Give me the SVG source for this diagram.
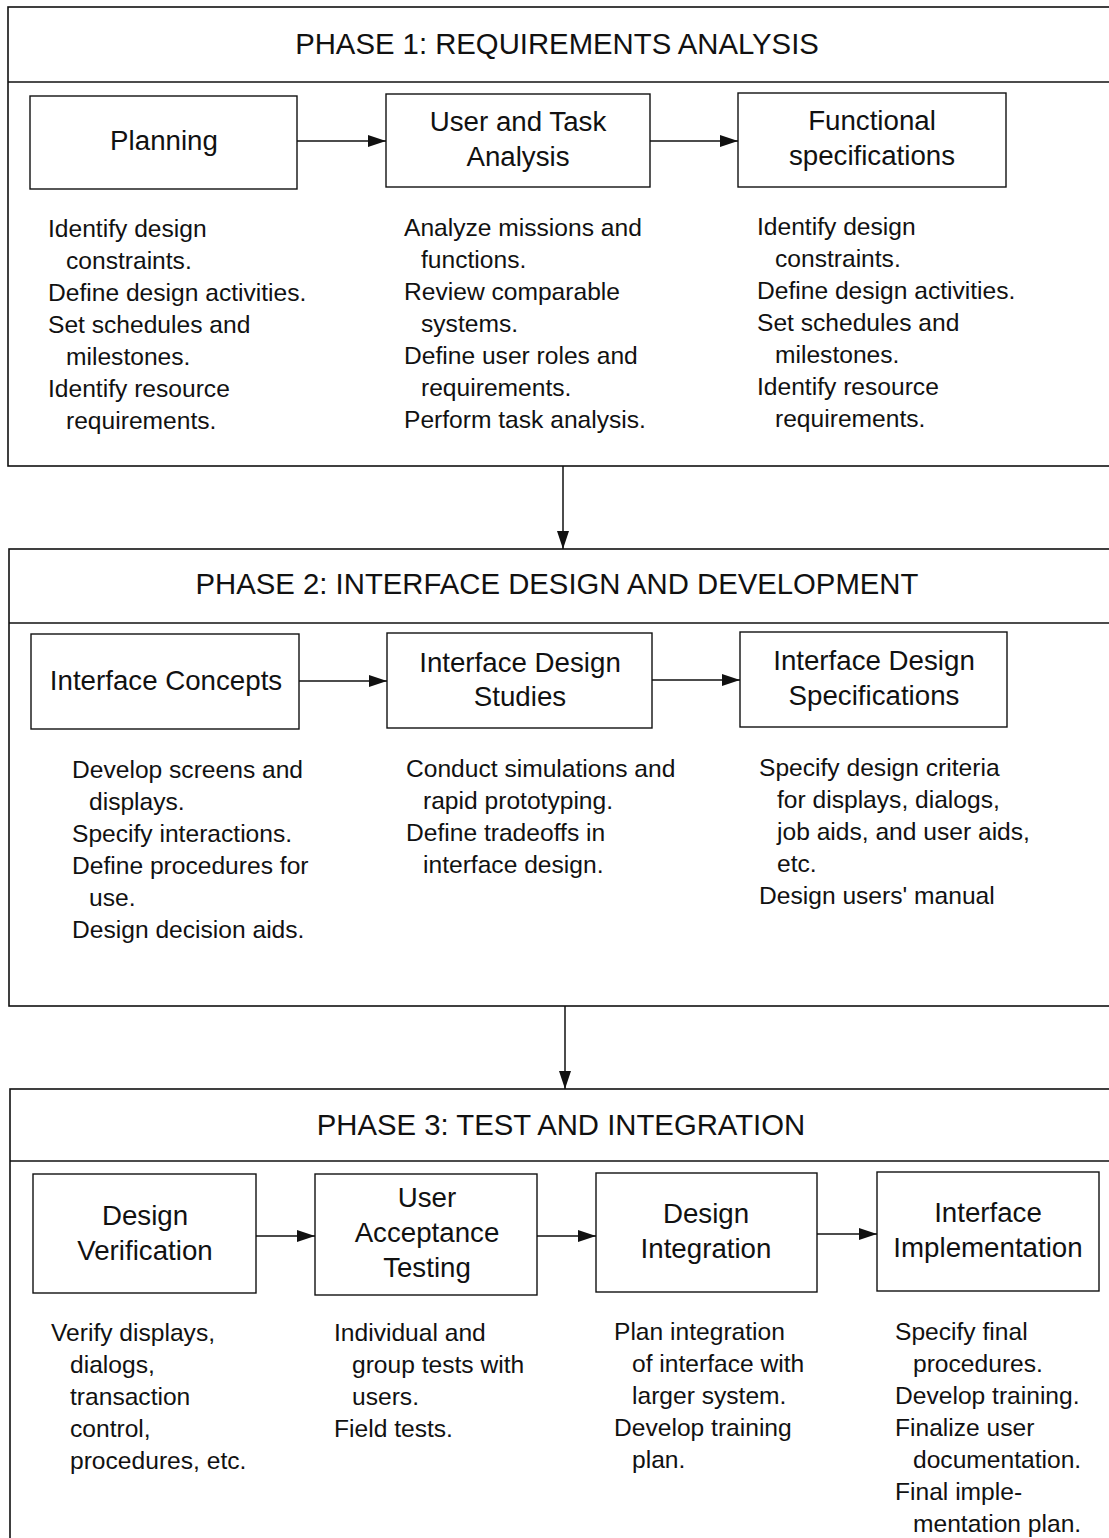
<svg xmlns="http://www.w3.org/2000/svg" width="1109" height="1538" viewBox="0 0 1109 1538">
<style>
.phase{fill:none;stroke:#111;stroke-width:1.6}
.box{fill:#fff;stroke:#111;stroke-width:1.4}
.hdr{font-family:"Liberation Sans",Arial,sans-serif;font-size:29.3px;fill:#111;text-anchor:middle}
.ttl{font-family:"Liberation Sans",Arial,sans-serif;font-size:27.7px;fill:#111;text-anchor:middle}
.body{font-family:"Liberation Sans",Arial,sans-serif;font-size:24.6px;fill:#111}
.conn{stroke:#111;stroke-width:1.5;fill:none}
</style>
<defs>
<marker id="ah" viewBox="0 0 18 12" refX="18" refY="6" markerWidth="18" markerHeight="12" markerUnits="userSpaceOnUse" orient="auto">
<path d="M0,0 L18,6 L0,12 Z" fill="#111"/>
</marker>
</defs>
<rect width="1109" height="1538" fill="#fff"/>

<g id="phase1">
<rect class="phase" x="8" y="7" width="1110" height="459"/>
<line class="phase" x1="8" y1="82" x2="1118" y2="82"/>
<text class="hdr" x="557" y="54">PHASE 1: REQUIREMENTS ANALYSIS</text>
</g>
<g id="phase2">
<rect class="phase" x="9" y="549" width="1110" height="457"/>
<line class="phase" x1="9" y1="623" x2="1119" y2="623"/>
<text class="hdr" x="557" y="594">PHASE 2: INTERFACE DESIGN AND DEVELOPMENT</text>
</g>
<g id="phase3">
<rect class="phase" x="10" y="1089" width="1110" height="460"/>
<line class="phase" x1="10" y1="1161" x2="1120" y2="1161"/>
<text class="hdr" x="561" y="1135">PHASE 3: TEST AND INTEGRATION</text>
</g>

<g id="planning">
<rect class="box" x="30" y="96" width="267" height="93"/>
<text class="ttl" x="164" y="150">Planning</text>
<text class="body"><tspan x="48" y="237">Identify design</tspan><tspan x="66" y="269">constraints.</tspan><tspan x="48" y="301">Define design activities.</tspan><tspan x="48" y="333">Set schedules and</tspan><tspan x="66" y="365">milestones.</tspan><tspan x="48" y="397">Identify resource</tspan><tspan x="66" y="429">requirements.</tspan></text>
</g>
<g id="user-task-analysis">
<rect class="box" x="386" y="94" width="264" height="93"/>
<text class="ttl" x="518" y="131">User and Task</text>
<text class="ttl" x="518" y="166">Analysis</text>
<text class="body"><tspan x="404" y="236">Analyze missions and</tspan><tspan x="421" y="268">functions.</tspan><tspan x="404" y="300">Review comparable</tspan><tspan x="421" y="332">systems.</tspan><tspan x="404" y="364">Define user roles and</tspan><tspan x="421" y="396">requirements.</tspan><tspan x="404" y="428">Perform task analysis.</tspan></text>
</g>
<g id="functional-specifications">
<rect class="box" x="738" y="93" width="268" height="94"/>
<text class="ttl" x="872" y="130">Functional</text>
<text class="ttl" x="872" y="165">specifications</text>
<text class="body"><tspan x="757" y="235">Identify design</tspan><tspan x="775" y="267">constraints.</tspan><tspan x="757" y="299">Define design activities.</tspan><tspan x="757" y="331">Set schedules and</tspan><tspan x="775" y="363">milestones.</tspan><tspan x="757" y="395">Identify resource</tspan><tspan x="775" y="427">requirements.</tspan></text>
</g>

<g id="interface-concepts">
<rect class="box" x="31" y="634" width="268" height="95"/>
<text class="ttl" x="166" y="690">Interface Concepts</text>
<text class="body"><tspan x="72" y="778">Develop screens and</tspan><tspan x="89" y="810">displays.</tspan><tspan x="72" y="842">Specify interactions.</tspan><tspan x="72" y="874">Define procedures for</tspan><tspan x="89" y="906">use.</tspan><tspan x="72" y="938">Design decision aids.</tspan></text>
</g>
<g id="interface-design-studies">
<rect class="box" x="387" y="633" width="265" height="95"/>
<text class="ttl" x="520" y="672">Interface Design</text>
<text class="ttl" x="520" y="706">Studies</text>
<text class="body"><tspan x="406" y="777">Conduct simulations and</tspan><tspan x="423" y="809">rapid prototyping.</tspan><tspan x="406" y="841">Define tradeoffs in</tspan><tspan x="423" y="873">interface design.</tspan></text>
</g>
<g id="interface-design-specifications">
<rect class="box" x="740" y="632" width="267" height="95"/>
<text class="ttl" x="874" y="670">Interface Design</text>
<text class="ttl" x="874" y="705">Specifications</text>
<text class="body"><tspan x="759" y="776">Specify design criteria</tspan><tspan x="777" y="808">for displays, dialogs,</tspan><tspan x="777" y="840">job aids, and user aids,</tspan><tspan x="777" y="872">etc.</tspan><tspan x="759" y="904">Design users' manual</tspan></text>
</g>

<g id="design-verification">
<rect class="box" x="33" y="1174" width="223" height="119"/>
<text class="ttl" x="145" y="1225">Design</text>
<text class="ttl" x="145" y="1260">Verification</text>
<text class="body"><tspan x="51" y="1341">Verify displays,</tspan><tspan x="70" y="1373">dialogs,</tspan><tspan x="70" y="1405">transaction</tspan><tspan x="70" y="1437">control,</tspan><tspan x="70" y="1469">procedures, etc.</tspan></text>
</g>
<g id="user-acceptance-testing">
<rect class="box" x="315" y="1174" width="222" height="121"/>
<text class="ttl" x="427" y="1207">User</text>
<text class="ttl" x="427" y="1242">Acceptance</text>
<text class="ttl" x="427" y="1277">Testing</text>
<text class="body"><tspan x="334" y="1341">Individual and</tspan><tspan x="352" y="1373">group tests with</tspan><tspan x="352" y="1405">users.</tspan><tspan x="334" y="1437">Field tests.</tspan></text>
</g>
<g id="design-integration">
<rect class="box" x="596" y="1173" width="221" height="119"/>
<text class="ttl" x="706" y="1223">Design</text>
<text class="ttl" x="706" y="1258">Integration</text>
<text class="body"><tspan x="614" y="1340">Plan integration</tspan><tspan x="632" y="1372">of interface with</tspan><tspan x="632" y="1404">larger system.</tspan><tspan x="614" y="1436">Develop training</tspan><tspan x="632" y="1468">plan.</tspan></text>
</g>
<g id="interface-implementation">
<rect class="box" x="877" y="1172" width="222" height="119"/>
<text class="ttl" x="988" y="1222">Interface</text>
<text class="ttl" x="988" y="1257">Implementation</text>
<text class="body"><tspan x="895" y="1340">Specify final</tspan><tspan x="913" y="1372">procedures.</tspan><tspan x="895" y="1404">Develop training.</tspan><tspan x="895" y="1436">Finalize user</tspan><tspan x="913" y="1468">documentation.</tspan><tspan x="895" y="1500">Final imple-</tspan><tspan x="913" y="1532">mentation plan.</tspan></text>
</g>

<g id="connectors">
<line class="conn" x1="297" y1="141" x2="386" y2="141" marker-end="url(#ah)"/>
<line class="conn" x1="650" y1="141" x2="738" y2="141" marker-end="url(#ah)"/>
<line class="conn" x1="563" y1="466" x2="563" y2="549" marker-end="url(#ah)"/>
<line class="conn" x1="299" y1="681" x2="387" y2="681" marker-end="url(#ah)"/>
<line class="conn" x1="652" y1="680" x2="740" y2="680" marker-end="url(#ah)"/>
<line class="conn" x1="565" y1="1006" x2="565" y2="1089" marker-end="url(#ah)"/>
<line class="conn" x1="256" y1="1236" x2="315" y2="1236" marker-end="url(#ah)"/>
<line class="conn" x1="537" y1="1236" x2="596" y2="1236" marker-end="url(#ah)"/>
<line class="conn" x1="817" y1="1234" x2="877" y2="1234" marker-end="url(#ah)"/>
</g>
</svg>
